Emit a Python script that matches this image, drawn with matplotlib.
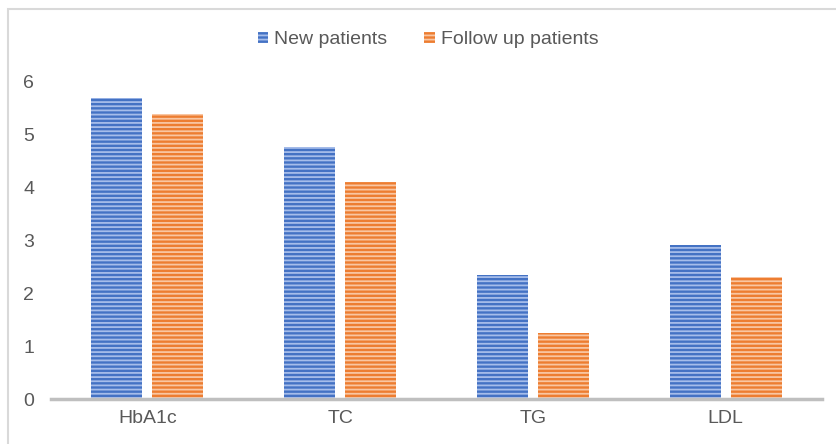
import matplotlib
matplotlib.use("Agg")
import matplotlib.pyplot as plt
import numpy as np
from matplotlib.patches import Rectangle

categories = ["HbA1c", "TC", "TG", "LDL"]
new_patients = [5.70, 4.77, 2.35, 2.92]
follow_up = [5.40, 4.11, 1.25, 2.31]
yticks = [0, 1, 2, 3, 4, 5, 6]

plt.rcParams['font.family'] = ['Liberation Sans', 'DejaVu Sans']
plt.rcParams['hatch.linewidth'] = 1.3

fig = plt.figure(figsize=(8.36, 4.44), dpi=100)
ax = fig.add_axes([51/836, 1-399/444, (822-51)/836, (399-82)/444])

x = np.arange(len(categories))
w = 0.265
gap = 0.052
b1 = ax.bar(x - (w+gap)/2, new_patients, w, color='#4472C4', edgecolor='#a6bdea',
            hatch='----', linewidth=0)
b2 = ax.bar(x + (w+gap)/2, follow_up, w, color='#ED7D31', edgecolor='#f9c6a2',
            hatch='----', linewidth=0)

ax.set_xlim(-0.5, 3.5)
ax.set_ylim(0, 6)
ax.set_yticks(yticks)
ax.set_xticks(x)
ax.set_xticklabels(categories)
ax.tick_params(axis='both', length=0, labelsize=14, colors='#595959')
ax.tick_params(axis='y', pad=12)
ax.tick_params(axis='x', pad=8)
for s in ['top', 'right', 'left']:
    ax.spines[s].set_visible(False)
ax.spines['bottom'].set_color('#bfbfbf')
ax.spines['bottom'].set_linewidth(2.5)

leg = fig.legend([b1, b2], ["New patients", "Follow up patients"], loc='center',
                 bbox_to_anchor=(428/836, 1-40/444), ncol=2, frameon=False,
                 fontsize=14, handlelength=0.55, handleheight=0.55, handletextpad=0.3,
                 columnspacing=1.9)
for t in leg.get_texts():
    t.set_color('#595959')

# outer chart border
fig.patches.append(Rectangle((8/836, -0.1), 1.0, 1-9/444+0.1, transform=fig.transFigure,
                             fill=False, edgecolor='#d9d9d9', linewidth=1.5))

fig.savefig("out.png", dpi=100)
